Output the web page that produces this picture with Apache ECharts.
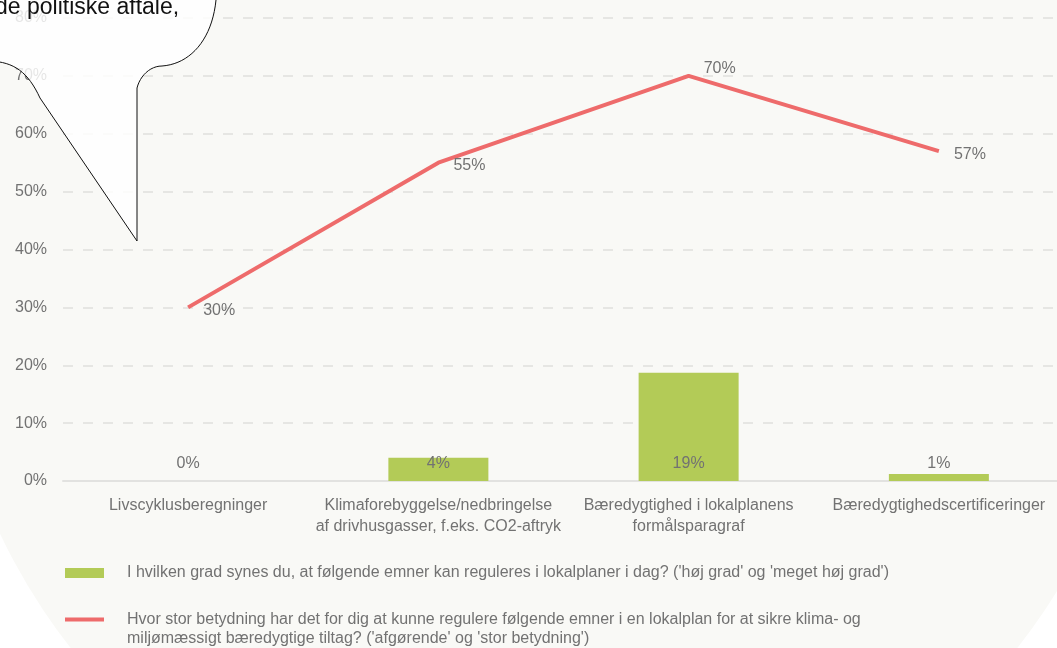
<!DOCTYPE html>
<html>
<head>
<meta charset="utf-8">
<script src="https://cdn.jsdelivr.net/npm/echarts@6/dist/echarts.min.js"></script>
<style>
  html, body { margin: 0; padding: 0; background: #ffffff; }
  #chart { width: 1057px; height: 648px; }
</style>
</head>
<body>
<div id="chart"></div>
<script>
// data
const categories = [
  'Livscyklusberegninger',
  'Klimaforebyggelse/nedbringelse\naf drivhusgasser, f.eks. CO2-aftryk',
  'Bæredygtighed i lokalplanens\nformålsparagraf',
  'Bæredygtighedscertificeringer'
]
const barName = "I hvilken grad synes du, at følgende emner kan reguleres i lokalplaner i dag? ('høj grad' og 'meget høj grad')"
const lineName = "Hvor stor betydning har det for dig at kunne regulere følgende emner i en lokalplan for at sikre klima- og\nmiljømæssigt bæredygtige tiltag? ('afgørende' og 'stor betydning')"
const barValues = [0, 4, 18.7, 1.2]
const lineValues = [30, 55, 70, 57]
const yMin = 0
const yMax = 80
const yStep = 10
const bubbleText = 'de politiske aftale,'

const FONT = "'Liberation Sans', Arial, Helvetica, sans-serif"
const GRAY = '#727272'

// outline of the speech bubble (cubic segments sampled into a polygon)
function cubic(p0, p1, p2, p3, n) {
  const pts = []
  for (let i = 1; i <= n; i++) {
    const t = i / n, u = 1 - t
    pts.push([
      u * u * u * p0[0] + 3 * u * u * t * p1[0] + 3 * u * t * t * p2[0] + t * t * t * p3[0],
      u * u * u * p0[1] + 3 * u * u * t * p1[1] + 3 * u * t * t * p2[1] + t * t * t * p3[1]
    ])
  }
  return pts
}
const bubblePoints = [[-10, 61]]
  .concat(cubic([-10, 61], [14, 62], [28, 72], [40, 98], 16))
  .concat([[137, 241], [137, 88]])
  .concat(cubic([137, 88], [140, 76], [150, 66], [162, 66], 12))
  .concat(cubic([162, 66], [190, 64], [212, 40], [216, 0], 20))
  .concat([[216, -30], [-10, -30]])

// line labels sit a little below the line, except at a peak where they go above
function lineLabelOffset(i) {
  const v = lineValues[i]
  const prev = i > 0 ? lineValues[i - 1] : -Infinity
  const next = i < lineValues.length - 1 ? lineValues[i + 1] : -Infinity
  return v > prev && v > next ? [0, -7] : [0, 3]
}

const chart = echarts.init(document.getElementById('chart'), null, { renderer: 'canvas' })

chart.setOption({
  animation: false,
  textStyle: { fontFamily: FONT },
  grid: {
    left: 63,
    width: 1001,
    top: 18,
    bottom: 167,
    containLabel: false,
    outerBoundsMode: 'none'
  },
  graphic: [
    {
      // pale backdrop
      type: 'circle',
      z: -100,
      silent: true,
      shape: { cx: 544, cy: 276, r: 602 },
      style: { fill: '#f9f9f6' }
    },
    {
      // speech bubble in the corner
      type: 'polygon',
      z: 100,
      silent: true,
      shape: { points: bubblePoints },
      style: { fill: 'rgba(255,255,255,0.82)', stroke: '#111', lineWidth: 1 }
    },
    {
      type: 'text',
      z: 101,
      silent: true,
      x: -5,
      y: 7.5,
      style: {
        text: bubbleText,
        fill: '#111',
        font: '23px ' + FONT,
        verticalAlign: 'middle'
      }
    }
  ],
  legend: [
    {
      data: [{ name: barName, icon: 'rect' }],
      orient: 'vertical',
      left: 65,
      top: 565,
      padding: 0,
      itemWidth: 39,
      itemHeight: 10,
      selectedMode: false,
      textStyle: { color: GRAY, fontSize: 16, fontFamily: FONT, padding: [0, 0, 0, 18] }
    },
    {
      data: [{ name: lineName, icon: 'rect' }],
      orient: 'vertical',
      left: 65,
      top: 591,
      padding: 0,
      itemWidth: 39,
      itemHeight: 4,
      selectedMode: false,
      // blank first line keeps the icon level with the first text line
      formatter: name => '\n' + name,
      textStyle: { color: GRAY, fontSize: 16, fontFamily: FONT, lineHeight: 19, padding: [0, 0, 0, 18] }
    }
  ],
  xAxis: {
    type: 'category',
    data: categories,
    boundaryGap: true,
    axisTick: { show: false },
    axisLine: { lineStyle: { color: '#e2e2e0', width: 2 } },
    axisLabel: {
      color: GRAY,
      fontSize: 16,
      fontFamily: FONT,
      lineHeight: 21,
      margin: 14,
      interval: 0
    }
  },
  yAxis: {
    type: 'value',
    min: yMin,
    max: yMax,
    interval: yStep,
    axisLine: { show: false },
    axisTick: { show: false },
    axisLabel: {
      color: GRAY,
      fontSize: 16,
      fontFamily: FONT,
      margin: 16,
      formatter: '{value}%'
    },
    splitLine: {
      lineStyle: { color: '#e6e6e3', width: 2, type: [10, 10] }
    }
  },
  series: [
    {
      name: barName,
      type: 'bar',
      data: barValues,
      barWidth: 100,
      itemStyle: { color: '#b3cb57' },
      label: {
        show: true,
        position: 'insideBottom',
        distance: 9,
        color: GRAY,
        fontSize: 16,
        fontFamily: FONT,
        formatter: p => Math.round(p.value) + '%'
      }
    },
    {
      name: lineName,
      type: 'line',
      data: lineValues.map((v, i) => ({ value: v, label: { offset: lineLabelOffset(i) } })),
      showSymbol: true,
      symbol: 'circle',
      symbolSize: 0,
      itemStyle: { color: '#ee6b6b' },
      lineStyle: { color: '#ee6b6b', width: 4 },
      label: {
        show: true,
        position: 'right',
        distance: 15,
        color: GRAY,
        fontSize: 16,
        fontFamily: FONT,
        formatter: p => p.value + '%'
      }
    }
  ]
})
</script>
</body>
</html>
